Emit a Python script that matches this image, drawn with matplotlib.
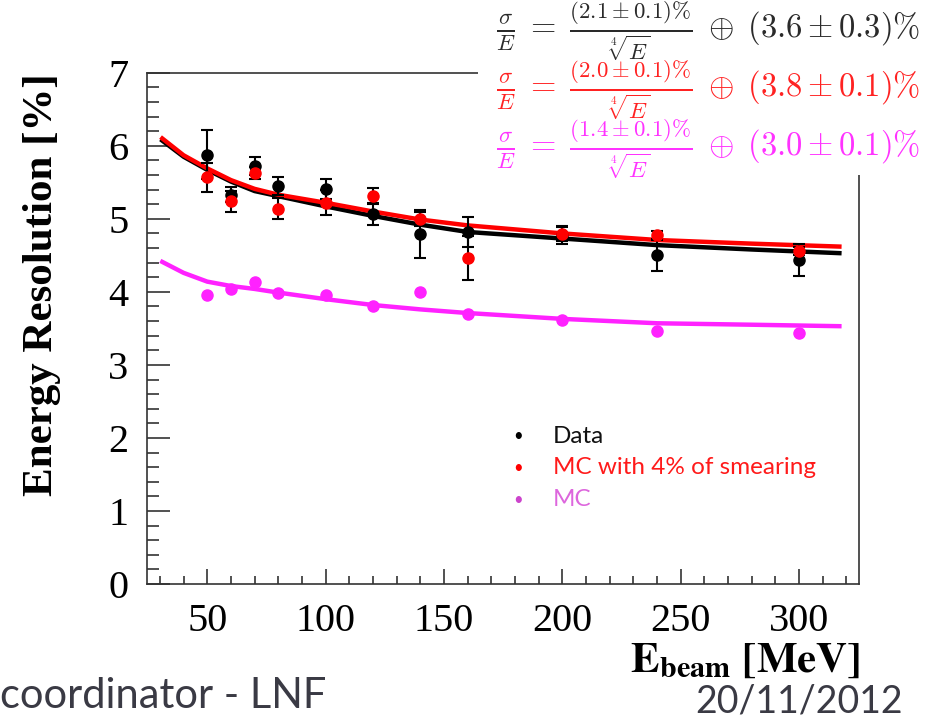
import matplotlib
matplotlib.use('Agg')
import matplotlib.pyplot as plt
from matplotlib.patches import Rectangle
from matplotlib.ticker import MultipleLocator

# measured points
energy = [50, 60, 70, 80, 100, 120, 140, 160, 200, 240, 300]
res_data = [5.88, 5.33, 5.72, 5.45, 5.41, 5.07, 4.79, 4.82, 4.78, 4.50, 4.44]
err_data = [0.33, 0.10, 0.12, 0.12, 0.14, 0.15, 0.33, 0.20, 0.12, 0.21, 0.22]
res_mc_smear = [5.57, 5.24, 5.63, 5.14, 5.22, 5.31, 5.00, 4.46, 4.79, 4.78, 4.56]
err_mc_smear = [0.20, 0.14, 0.08, 0.14, 0.17, 0.11, 0.10, 0.30, 0.10, 0.05, 0.05]
res_mc = [3.96, 4.04, 4.14, 3.98, 3.96, 3.80, 4.00, 3.69, 3.62, 3.47, 3.44]

# fit curves
e_fit = [31, 40, 50, 60, 70, 80, 100, 120, 140, 160, 200, 240, 280, 317]
fit_data = [6.07, 5.85, 5.67, 5.51, 5.38, 5.31, 5.17, 5.04, 4.92, 4.82, 4.73, 4.64, 4.58, 4.53]
fit_mc_smear = [6.10, 5.87, 5.69, 5.53, 5.41, 5.33, 5.22, 5.10, 4.99, 4.91, 4.80, 4.71, 4.66, 4.62]
fit_mc = [4.41, 4.26, 4.14, 4.08, 4.04, 3.99, 3.90, 3.82, 3.76, 3.71, 3.63, 3.57, 3.55, 3.53]

formulas = [r'$\frac{\sigma}{E}\;=\;\frac{(2.1\pm0.1)\%}{\sqrt[4]{E}}\;\oplus\;(3.6\pm0.3)\%$',
            r'$\frac{\sigma}{E}\;=\;\frac{(2.0\pm0.1)\%}{\sqrt[4]{E}}\;\oplus\;(3.8\pm0.1)\%$',
            r'$\frac{\sigma}{E}\;=\;\frac{(1.4\pm0.1)\%}{\sqrt[4]{E}}\;\oplus\;(3.0\pm0.1)\%$']
formula_colors = ['#2a2a2a', '#ff2222', '#ff33ff']

legend_labels = ['Data', 'MC with 4% of smearing', 'MC']
legend_text_colors = ['#111111', '#ff1a1a', '#dd66dd']
legend_dot_colors = ['black', 'red', '#cc44cc']

fig = plt.figure(figsize=(9.33, 7.18), dpi=100)
ax = fig.add_axes([0.1572, 0.1866, 0.7635, 0.7121])

ax.plot(e_fit, fit_data, color='black', lw=3.2, zorder=2)
ax.plot(e_fit, fit_mc_smear, color='red', lw=3.2, zorder=3)
ax.plot(e_fit, fit_mc, color='#ff22ff', lw=3.2, zorder=2)

ax.errorbar(energy, res_mc, fmt='o', color='#ff22ff', ms=8, zorder=4)
ax.errorbar(energy, res_data, yerr=err_data, fmt='o', color='black', ecolor='black',
            ms=8, capsize=4, elinewidth=1.5, capthick=1.5, zorder=4)
ax.errorbar(energy, res_mc_smear, yerr=err_mc_smear, fmt='o', color='red', ecolor='black',
            ms=8, capsize=4, elinewidth=1.5, capthick=1.5, zorder=5)

ax.set_xlim(24.4, 325.3)
ax.set_ylim(0, 7)
ax.xaxis.set_major_locator(MultipleLocator(50))
ax.xaxis.set_minor_locator(MultipleLocator(10))
ax.yaxis.set_major_locator(MultipleLocator(1))
ax.yaxis.set_minor_locator(MultipleLocator(0.2))
ax.tick_params(axis='y', which='major', direction='in', length=16.5, width=1.2, pad=13,
               labelsize=29, colors='#333333', labelcolor='black')
ax.tick_params(axis='y', which='minor', direction='in', length=8.3, width=1.2, colors='#333333')
ax.tick_params(axis='x', which='major', direction='in', length=10.8, width=1.2, pad=14,
               labelsize=29, colors='#333333', labelcolor='black')
ax.tick_params(axis='x', which='minor', direction='in', length=5.8, width=1.2, colors='#333333')
for lab in ax.get_xticklabels() + ax.get_yticklabels():
    lab.set_fontfamily('Liberation Serif')
for sp in ax.spines.values():
    sp.set_linewidth(1.2)
    sp.set_color('#333333')

fig.text(42 / 933, 1 - 285 / 718, 'Energy Resolution [%]', rotation=90, ha='center', va='center',
         fontsize=31, fontweight='bold', family='Liberation Serif')
fig.text(860 / 933, 1 - 672 / 718, r'$\mathbf{E_{beam}\ [MeV]}$', ha='right', va='baseline',
         fontsize=31, math_fontfamily='stix')

# white box hiding the frame corner behind the formulas
fig.patches.append(Rectangle((478 / 933, 1 - 175 / 718), 1, 1, transform=fig.transFigure,
                             facecolor='white', edgecolor='none', zorder=5))
for i, (f, c, yc) in enumerate(zip(formulas, formula_colors, [31, 90, 149])):
    fig.text(920 / 933, 1 - yc / 718, f, ha='right', va='center', fontsize=23.5,
             color=c, math_fontfamily='cm', zorder=6)

for i, (lab, tc, dc) in enumerate(zip(legend_labels, legend_text_colors, legend_dot_colors)):
    y = 1 - (436 + 32 * i) / 718
    fig.text(518 / 933, y, '\u2022', ha='center', va='center', fontsize=12, color=dc, family='Lato')
    fig.text(553 / 933, y, lab, ha='left', va='center', fontsize=17.5, color=tc, family='Lato')

fig.text(0.0, 1 - 708 / 718, 'coordinator - LNF', ha='left', va='baseline', fontsize=30,
         color='#3a3a44', family='Lato')
fig.text(903 / 933, 1 - 712 / 718, '20/11/2012', ha='right', va='baseline', fontsize=27,
         color='#3a3a44', family='Lato')

fig.savefig('out.png', dpi=100)
